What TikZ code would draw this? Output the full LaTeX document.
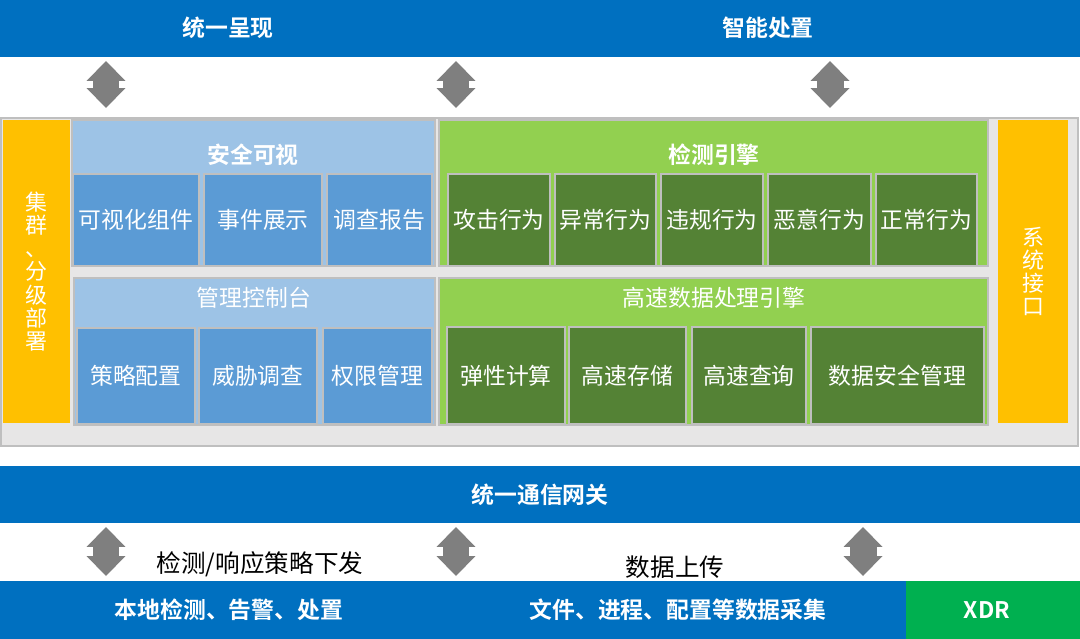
\documentclass[tikz,border=0pt]{standalone}
\usepackage{fontspec}
\setmainfont{Noto Sans CJK SC}[BoldFont={Noto Sans CJK SC Bold}]
\usetikzlibrary{arrows.meta,fit}

\definecolor{barblue}{HTML}{0070C0}
\definecolor{arrgray}{HTML}{7F7F7F}
\definecolor{framegray}{HTML}{BFBFBF}
\definecolor{basegray}{HTML}{E7E6E6}
\definecolor{amber}{HTML}{FFC000}
\definecolor{paleblue}{HTML}{9DC3E6}
\definecolor{midblue}{HTML}{5B9BD5}
\definecolor{palegreen}{HTML}{92D050}
\definecolor{deepgreen}{HTML}{548235}
\definecolor{xdrgreen}{HTML}{00B050}

\newcommand{\txtbold}{\bfseries\fontsize{13}{15}\selectfont}
\newcommand{\txtplain}{\fontsize{13}{15}\selectfont}

\tikzset{
  bar/.style={fill=barblue, inner sep=0pt},
  base/.style={fill=basegray, draw=framegray, line width=1.2pt, inner sep=0pt},
  side/.style={fill=amber, inner sep=0pt},
  bluepanel/.style={fill=paleblue, draw=framegray, line width=0.9pt, inner sep=0pt},
  greenpanel/.style={fill=palegreen, draw=framegray, line width=0.9pt, inner sep=0pt},
  bluebox/.style={fill=midblue, draw=framegray, line width=1.1pt, inner sep=0pt},
  greenbox/.style={fill=deepgreen, draw=framegray, line width=1.1pt, inner sep=0pt},
  headbold/.style={text=white, font=\txtbold},
  headplain/.style={text=white, font=\txtplain},
  sidetext/.style={text=white, align=center, font=\fontsize{12.5}{13.2}\selectfont},
  note/.style={text=black, font=\fontsize{14}{16}\selectfont},
  dblarr/.style={color=arrgray, line width=0.54cm,
    >={Triangle[width=0.78cm,length=0.4cm,line width=0pt]}, <->}
}

\begin{document}
\begin{tikzpicture}[x=0.02cm, y=-0.02cm]
  \useasboundingbox (0,0) rectangle (1080,639);

  % top bar
  \node[bar, fit={(0,0) (1080,57)}] (present) {};
  \node[headbold] (presentL) at (228,28) {统一呈现};
  \node[headbold] (presentR) at (768,28) {智能处置};

  % core platform
  \node[base, fit={(1,118) (1078,446)}] (core) {};
  \node[side, fit={(3,120) (70,423)},
    label={[sidetext]center:集\\群\\、\\分\\级\\部\\署}] (cluster) {};
  \node[side, fit={(998,120) (1068,423)},
    label={[sidetext]center:系\\统\\接\\口}] (api) {};

  % security view
  \node[bluepanel, fit={(72,120) (435,266)}] (vis) {};
  \node[headbold] (visT) at (253,155) {安全可视};
  \node[bluebox, fit={(73,174) (199,266)}, label={[headplain]center:可视化组件}] (widget) {};
  \node[bluebox, fit={(204,174) (322,266)}, label={[headplain]center:事件展示}] (event) {};
  \node[bluebox, fit={(327,174) (432,266)}, label={[headplain]center:调查报告}] (report) {};

  % console
  \node[bluepanel, fit={(74,278) (435,425)}] (console) {};
  \node[headplain] (consoleT) at (254,298) {管理控制台};
  \node[bluebox, fit={(77,328) (195,424)}, label={[headplain]center:策略配置}] (policy) {};
  \node[bluebox, fit={(199,328) (317,424)}, label={[headplain]center:威胁调查}] (threat) {};
  \node[bluebox, fit={(323,328) (432,424)}, label={[headplain]center:权限管理}] (rights) {};

  % detection engine
  \node[greenpanel, fit={(439,120) (988,266)}] (detect) {};
  \node[headbold] (detectT) at (714,155) {检测引擎};
  \node[greenbox, fit={(448,174) (550,266)}, label={[headplain]center:攻击行为}] (attack) {};
  \node[greenbox, fit={(555,174) (656,266)}, label={[headplain]center:异常行为}] (anomaly) {};
  \node[greenbox, fit={(661,174) (763,266)}, label={[headplain]center:违规行为}] (violate) {};
  \node[greenbox, fit={(768,174) (871,266)}, label={[headplain]center:恶意行为}] (malice) {};
  \node[greenbox, fit={(876,174) (977,266)}, label={[headplain]center:正常行为}] (normal) {};

  % data engine
  \node[greenpanel, fit={(439,278) (988,425)}] (data) {};
  \node[headplain] (dataT) at (714,298) {高速数据处理引擎};
  \node[greenbox, fit={(447,327) (565,424)}, label={[headplain]center:弹性计算}] (elastic) {};
  \node[greenbox, fit={(569,327) (686,424)}, label={[headplain]center:高速存储}] (store) {};
  \node[greenbox, fit={(692,327) (806,424)}, label={[headplain]center:高速查询}] (query) {};
  \node[greenbox, fit={(811,327) (984,424)}, label={[headplain]center:数据安全管理}] (secure) {};

  % gateway and agents
  \node[bar, fit={(0,466) (1080,523)}, label={[headbold]center:统一通信网关}] (gate) {};
  \node[bar, fit={(0,581) (906,639)}] (agent) {};
  \node[headbold] (agentL) at (229,610) {本地检测、告警、处置};
  \node[headbold] (agentR) at (678,610) {文件、进程、配置等数据采集};
  \node[bar, fill=xdrgreen, fit={(906,581) (1080,639)}] (xdr) {};
  \node[headbold] (xdrT) at (987,610) {XDR};

  \node[note] (down) at (260,564) {检测/响应策略下发};
  \node[note] (up) at (675,567) {数据上传};

  % double arrows
  \foreach \x/\n in {106/1, 456/2, 830/3} {
    \coordinate (top\n a) at (\x,61);
    \coordinate (top\n b) at (\x,108);
    \draw[dblarr] (top\n a) -- (top\n b);
  }
  \foreach \x/\n in {106/1, 456/2, 863/3} {
    \coordinate (low\n a) at (\x,527);
    \coordinate (low\n b) at (\x,576);
    \draw[dblarr] (low\n a) -- (low\n b);
  }
\end{tikzpicture}
\end{document}
